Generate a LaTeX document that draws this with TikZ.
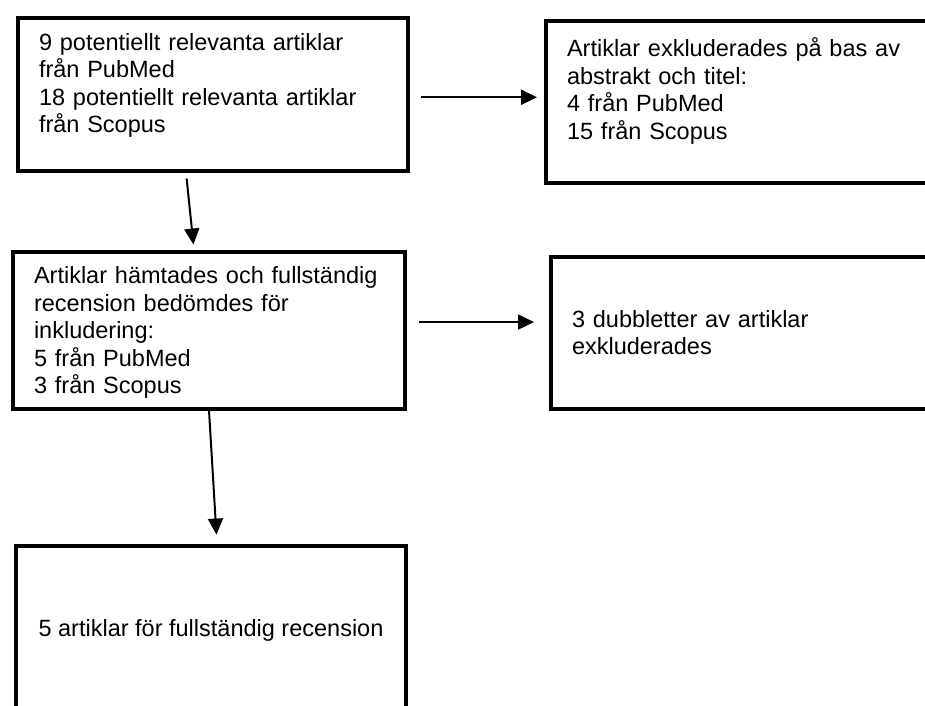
\documentclass[tikz,border=0pt]{standalone}
\usepackage{fontspec}
\setmainfont{Liberation Sans}
\usetikzlibrary{arrows.meta,positioning}

\begin{document}
\begin{tikzpicture}[
  x=1pt, y=-1pt,
  font=\fontsize{23.5pt}{27.5pt}\selectfont,
  box/.style={draw, line width=4pt, anchor=north west, align=left, inner xsep=21pt, inner ysep=17pt},
  arr/.style={-{Triangle[length=16pt,width=15pt]}, line width=2pt}
]
  \useasboundingbox (0,0) rectangle (925,705);
  \clip (0,0) rectangle (925,705);

  \node[box, text width=348pt, text depth=105.5pt, inner ysep=15pt] (found) at (16,16) {
    9 potentiellt relevanta artiklar\\
    från PubMed\\
    18 potentiellt relevanta artiklar\\
    från Scopus};
  \node[box, text width=378pt, text depth=109.5pt, right=134pt of found.north east, anchor=north west, yshift=-3pt] (absexcl) {
    Artiklar exkluderades på bas av\\
    abstrakt och titel:\\
    4 från PubMed\\
    15 från Scopus};
  \node[box, text width=350pt, text depth=110pt, inner ysep=15pt, below=77pt of found.south west, anchor=north west, xshift=-5pt] (fulltext) {
    Artiklar hämtades och fullständig\\
    recension bedömdes för\\
    inkludering:\\
    5 från PubMed\\
    3 från Scopus};
  \node[box, text width=378pt, minimum height=152pt, right=142pt of fulltext.north east, anchor=north west, yshift=-5pt] (dupexcl) {
    3 dubbletter av artiklar\\
    exkluderades};
  \node[box, align=center, minimum width=390pt, minimum height=170pt, below=133pt of fulltext.south west, anchor=north west, xshift=3pt] (final)
    {5 artiklar för fullständig recension};

  \draw[arr, shorten <=11pt, shorten >=7pt] ([yshift=-3pt]found.east) -- ([yshift=-3pt]found.east -| absexcl.west);
  \draw[arr, shorten <=6pt, shorten >=5pt] ([xshift=-27pt]found.south) -- ([xshift=-15pt]fulltext.north);
  \draw[arr, shorten <=12pt, shorten >=15pt] ([yshift=8pt]fulltext.east) -- ([yshift=8pt]fulltext.east -| dupexcl.west);
  \draw[arr, shorten >=9pt] (fulltext.south) -- ([xshift=6pt]final.north);
\end{tikzpicture}
\end{document}
